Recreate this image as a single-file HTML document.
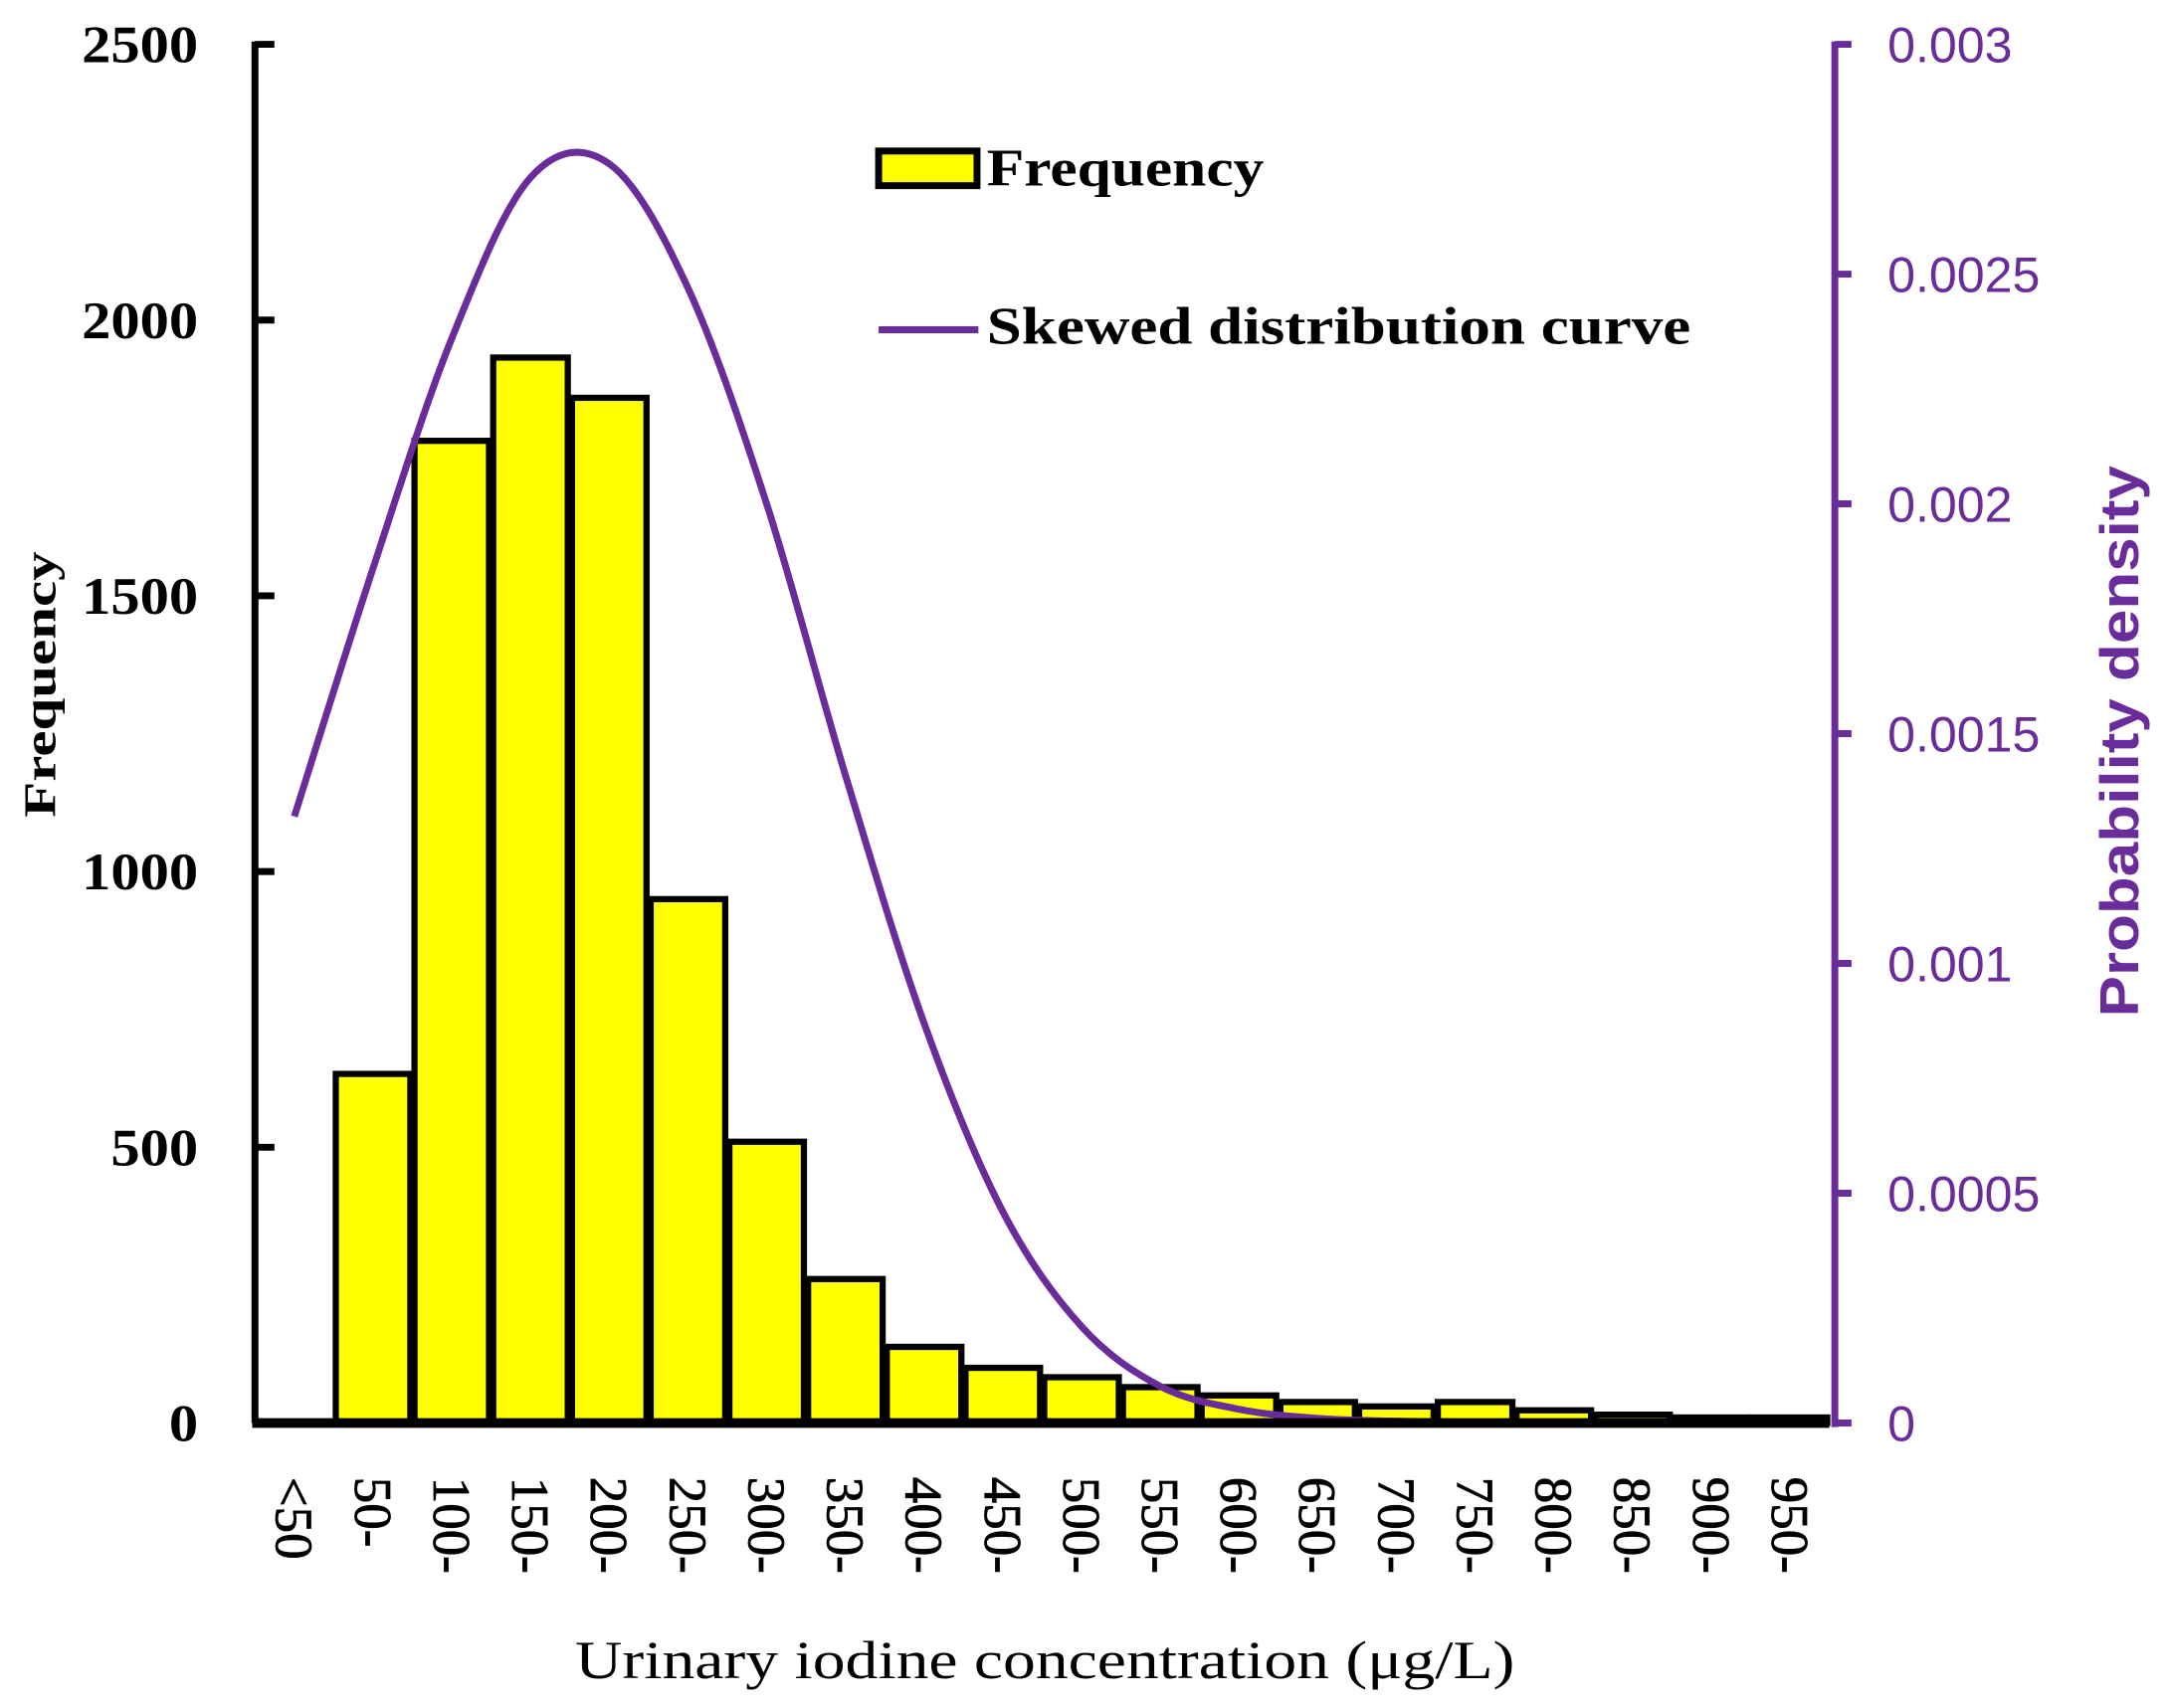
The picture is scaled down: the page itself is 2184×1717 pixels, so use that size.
<!DOCTYPE html>
<html><head><meta charset="utf-8"><style>html,body{margin:0;padding:0;background:#fff}svg{display:block}</style></head>
<body>
<svg id="chart" width="2184" height="1717" viewBox="0 0 1568 1232.7" preserveAspectRatio="none" xmlns="http://www.w3.org/2000/svg">
<g id="bars"></g>
<g id="curve-g"></g>
<g id="axes"></g>
<g>
  <rect x="634" y="109" width="71" height="25" fill="#ffff00" stroke="#000" stroke-width="5"/>
  <text x="712" y="134" textLength="200" lengthAdjust="spacingAndGlyphs" font-family="Liberation Serif, serif" font-weight="bold" font-size="38">Frequency</text>
  <line x1="634" y1="238" x2="706" y2="238" stroke="#6a2c9a" stroke-width="5"/>
  <text x="712" y="248" textLength="508" lengthAdjust="spacingAndGlyphs" font-family="Liberation Serif, serif" font-weight="bold" font-size="38">Skewed distribution curve</text>
</g>
<text transform="translate(40,494) rotate(-90)" text-anchor="middle" textLength="192" lengthAdjust="spacingAndGlyphs" font-family="Liberation Serif, serif" font-weight="bold" font-size="33">Frequency</text>
<text transform="translate(1543,535) rotate(-90)" text-anchor="middle" textLength="398" lengthAdjust="spacingAndGlyphs" font-family="Liberation Sans, sans-serif" font-weight="bold" font-size="39" fill="#6a2c9a">Probability density</text>
<text x="754" y="1211" text-anchor="middle" textLength="678" lengthAdjust="spacingAndGlyphs" font-family="Liberation Serif, serif" font-size="39">Urinary iodine concentration (μg/L)</text>
</svg>
<script>
const categories = ['<50','50-','100-','150-','200-','250-','300-','350-','400-','450-','500-','550-','600-','650-','700-','750-','800-','850-','900-','950-'];
const frequency = [0,633,1781,1932,1859,950,510,261,138,100,83,65,50,38,30,38,23,15,10,10];
const density = [0.00132,0.00186,0.00236,0.00271,0.00274,0.00247,0.00200,0.00141,0.00087,0.00046,0.00021,0.00008,0.00003,0.00001,0.000004,0.000002,0.000001,0,0,0];
const leftTicks = [0,500,1000,1500,2000,2500];
const rightTicks = [0,0.0005,0.001,0.0015,0.002,0.0025,0.003];
const rightTickLabels = ['0','0.0005','0.001','0.0015','0.002','0.0025','0.003'];

const NS='http://www.w3.org/2000/svg';
const X0=184,X1=1320,Y0=1027,YT=32;
const bw=(X1-X0)/categories.length;
const xL=i=>X0+bw*i, xC=i=>X0+bw*(i+0.5);
const yF=v=>Y0-(v/2500)*(Y0-YT);
const yD=v=>Y0-(v/0.003)*(Y0-YT);
function mk(tag,attrs,parent){const e=document.createElementNS(NS,tag);for(const k in attrs)e.setAttribute(k,attrs[k]);parent.appendChild(e);return e;}
const bars=document.getElementById('bars');
frequency.forEach((v,i)=>{
  if(v<=0)return;
  const r=mk('rect',{x:xL(i)+1.5,y:yF(v),width:bw-3,height:Y0-yF(v),fill:'#ffff00',stroke:'#000','stroke-width':4.5},bars);
  
  
});
const pts=density.map((v,i)=>[xC(i),yD(v)]);
let d='M'+pts[0][0]+','+pts[0][1];
for(let i=0;i<pts.length-1;i++){
  const p0=pts[Math.max(0,i-1)],p1=pts[i],p2=pts[i+1],p3=pts[Math.min(pts.length-1,i+2)];
  const c1=[p1[0]+(p2[0]-p0[0])/6,p1[1]+(p2[1]-p0[1])/6];
  const c2=[p2[0]-(p3[0]-p1[0])/6,p2[1]-(p3[1]-p1[1])/6];
  d+=' C'+c1[0]+','+c1[1]+' '+c2[0]+','+c2[1]+' '+p2[0]+','+p2[1];
}
const cg=document.getElementById('curve-g');
const curve=mk('path',{d:d,fill:'none',stroke:'#6a2c9a','stroke-width':5},cg);


const ax=document.getElementById('axes');
const la=mk('line',{x1:X0,y1:YT-2,x2:X0,y2:Y0,stroke:'#000','stroke-width':5},ax);


const xa=mk('line',{x1:X0-2,y1:Y0,x2:X1,y2:Y0,stroke:'#000','stroke-width':7},ax);


const ra=mk('line',{x1:X1+4,y1:YT-2,x2:X1+4,y2:Y0+3,stroke:'#6a2c9a','stroke-width':5},ax);


leftTicks.forEach(v=>{
  mk('line',{x1:X0,y1:yF(v),x2:X0+14,y2:yF(v),stroke:'#000','stroke-width':5},ax);
  const t=mk('text',{x:143,y:yF(v)+13,'text-anchor':'end','font-family':'Liberation Serif, serif','font-weight':'bold','font-size':38},ax);
  t.textContent=v;
  t.setAttribute('textLength',String(v).length*21);
  t.setAttribute('lengthAdjust','spacingAndGlyphs');
  
  
});
rightTicks.forEach((v,i)=>{
  mk('line',{x1:X1+4,y1:yD(v),x2:X1+16,y2:yD(v),stroke:'#6a2c9a','stroke-width':5},ax);
  const t=mk('text',{x:1362,y:yD(v)+13,'font-family':'Liberation Sans, sans-serif','font-size':36,fill:'#6a2c9a'},ax);
  t.textContent=rightTickLabels[i];
  
  
});
categories.forEach((c,i)=>{
  const t=mk('text',{transform:'translate('+(xC(i)-13)+',1066) rotate(90)','font-family':'Liberation Serif, serif','font-size':38,'stroke':'#000','stroke-width':0.6},ax);
  t.textContent=c;
  
  
});
</script>
</body></html>
